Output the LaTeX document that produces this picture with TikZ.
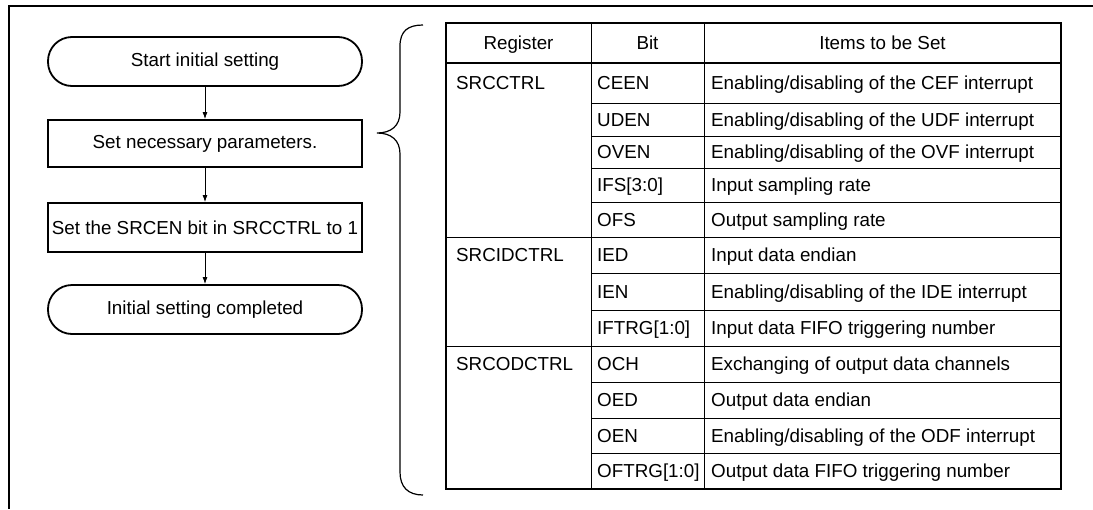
\documentclass[tikz,border=0pt]{standalone}
\usepackage{fontspec}
\setmainfont{Liberation Sans}
\usetikzlibrary{arrows.meta}
\begin{document}
\begin{tikzpicture}[x=1pt,y=-1pt,
  every node/.style={font=\fontsize{18.8}{22}\selectfont, inner sep=0pt},
  term/.style={draw, line width=1.8pt, rounded corners=24pt, minimum width=314pt, minimum height=49pt},
  proc/.style={draw, line width=1.8pt, minimum width=314pt, minimum height=47pt},
  flow/.style={line width=0.9pt, -{Latex[length=7pt,width=5pt]}},
  cell/.style={anchor=base west},
  head/.style={anchor=base},
  tline/.style={line width=0.9pt},
  bline/.style={line width=2pt},
  frameline/.style={line width=2.6pt},
  bracestyle/.style={line width=1.2pt}]
\useasboundingbox (0,0) rectangle (1093,509);
% frame
\draw[frameline] (1093,6) -- (9,6) -- (9,509);
% flowchart
\node[term] (start) at (205,61.5) {Start initial setting};
\node[proc] (param) at (205,143.5) {Set necessary parameters.};
\node[proc, minimum height=49pt] (srcen) at (205,227.5) {Set the SRCEN bit in SRCCTRL to 1};
\node[term] (done) at (205,309.5) {Initial setting completed};
\draw[flow] (start) -- (param);
\draw[flow] (param) -- (srcen);
\draw[flow] (srcen) -- (done);
% brace
\draw[bracestyle] (423,25) .. controls (408,25) and (400,31) .. (400,46) -- (400,112)
  .. controls (400,126) and (391,133) .. (377,133)
  .. controls (391,133) and (400,140) .. (400,154) -- (400,472)
  .. controls (400,487) and (408,495) .. (423,495);
% table lines
\draw[tline] (591,23) -- (591,489);
\draw[tline] (704,23) -- (704,489);
\foreach \yy in {103,136,168,202,273,310,382,418,453} \draw[tline] (591,\yy) -- (1061,\yy);
\draw[tline] (446,237) -- (1061,237);
\draw[tline] (446,346) -- (1061,346);
\draw[bline] (446,63) -- (1061,63);
\draw[bline] (446,23) rectangle (1061,489);
% header
\node[head] (hreg) at (518.5,49.7) {Register};
\node[head] (hbit) at (647.5,49.7) {Bit};
\node[head] (hitem) at (882.5,49.7) {Items to be Set};
% registers
\node[cell] (r1) at (456,89.7) {SRCCTRL};
\node[cell] (r2) at (456,261.7) {SRCIDCTRL};
\node[cell] (r3) at (456,370.7) {SRCODCTRL};
% bits
\node[cell] (b1) at (597,89.7) {CEEN};
\node[cell] (b2) at (597,126.2) {UDEN};
\node[cell] (b3) at (597,158.7) {OVEN};
\node[cell] (b4) at (597,191.7) {IFS[3:0]};
\node[cell] (b5) at (597,226.2) {OFS};
\node[cell] (b6) at (597,261.7) {IED};
\node[cell] (b7) at (597,298.2) {IEN};
\node[cell] (b8) at (597,334.7) {IFTRG[1:0]};
\node[cell] (b9) at (597,370.7) {OCH};
\node[cell] (b10) at (597,406.7) {OED};
\node[cell] (b11) at (597,442.2) {OEN};
\node[cell] (b12) at (597,477.7) {OFTRG[1:0]};
% items
\node[cell] (i1) at (711,89.7) {Enabling/disabling of the CEF interrupt};
\node[cell] (i2) at (711,126.2) {Enabling/disabling of the UDF interrupt};
\node[cell] (i3) at (711,158.7) {Enabling/disabling of the OVF interrupt};
\node[cell] (i4) at (711,191.7) {Input sampling rate};
\node[cell] (i5) at (711,226.2) {Output sampling rate};
\node[cell] (i6) at (711,261.7) {Input data endian};
\node[cell] (i7) at (711,298.2) {Enabling/disabling of the IDE interrupt};
\node[cell] (i8) at (711,334.7) {Input data FIFO triggering number};
\node[cell] (i9) at (711,370.7) {Exchanging of output data channels};
\node[cell] (i10) at (711,406.7) {Output data endian};
\node[cell] (i11) at (711,442.2) {Enabling/disabling of the ODF interrupt};
\node[cell] (i12) at (711,477.7) {Output data FIFO triggering number};
\end{tikzpicture}
\end{document}
